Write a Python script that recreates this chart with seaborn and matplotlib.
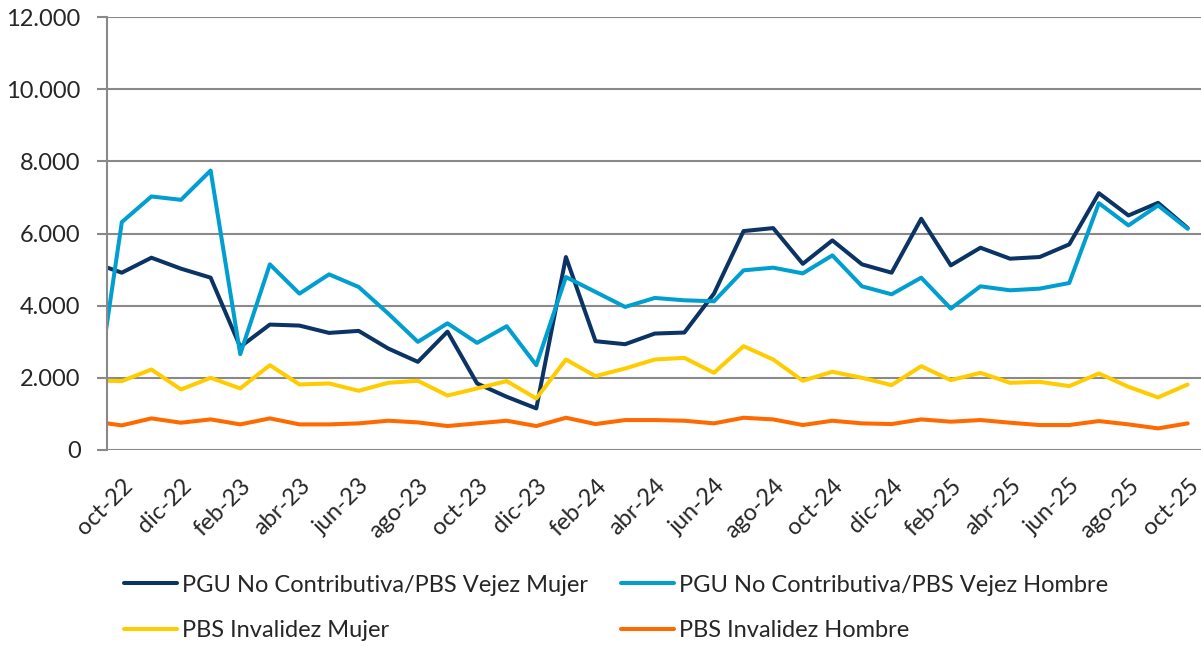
import numpy as np
import pandas as pd
import matplotlib
matplotlib.use("Agg")
import matplotlib.pyplot as plt
import matplotlib.ticker as mticker
import seaborn as sns

# months sep-22 .. oct-25 (sep-22 sits just left of the axis and gets clipped)
meses = ["sep-22", "oct-22", "nov-22", "dic-22", "ene-23", "feb-23", "mar-23", "abr-23",
         "may-23", "jun-23", "jul-23", "ago-23", "sep-23", "oct-23", "nov-23", "dic-23",
         "ene-24", "feb-24", "mar-24", "abr-24", "may-24", "jun-24", "jul-24", "ago-24",
         "sep-24", "oct-24", "nov-24", "dic-24", "ene-25", "feb-25", "mar-25", "abr-25",
         "may-25", "jun-25", "jul-25", "ago-25", "sep-25", "oct-25"]

vejez_mujer = [5200, 4914, 5329, 5025, 4776, 2858, 3476, 3448, 3245, 3301, 2812, 2443,
               3280, 1844, 1475, 1153, 5348, 3015, 2932, 3227, 3255, 4333, 6067, 6150,
               5160, 5809, 5145, 4914, 6408, 5117, 5606, 5302, 5348, 5698, 7118, 6500,
               6850, 6150]
vejez_hombre = [709, 6316, 7026, 6933, 7745, 2655, 5145, 4333, 4868, 4518, 3780, 2997,
                3510, 2969, 3430, 2351, 4794, 4380, 3965, 4214, 4149, 4121, 4979, 5053,
                4895, 5394, 4536, 4315, 4776, 3919, 4536, 4426, 4472, 4628, 6841, 6224,
                6777, 6131]
invalidez_mujer = [1930, 1909, 2231, 1678, 2001, 1706, 2351, 1816, 1844, 1641, 1862, 1918,
                   1510, 1706, 1909, 1429, 2508, 2047, 2259, 2508, 2554, 2139, 2877, 2508,
                   1920, 2167, 2001, 1798, 2323, 1936, 2139, 1862, 1890, 1770, 2121, 1752,
                   1457, 1816]
invalidez_hombre = [795, 682, 876, 756, 848, 710, 876, 710, 710, 738, 811, 765,
                    664, 738, 811, 664, 894, 719, 830, 830, 811, 738, 894, 848,
                    692, 811, 738, 719, 848, 784, 830, 756, 692, 692, 802, 710,
                    599, 738]

series = {
    "PGU No Contributiva/PBS Vejez Mujer": vejez_mujer,
    "PGU No Contributiva/PBS Vejez Hombre": vejez_hombre,
    "PBS Invalidez Mujer": invalidez_mujer,
    "PBS Invalidez Hombre": invalidez_hombre,
}
colores = ["#0B3464", "#009FD0", "#FFCC00", "#FF6A00"]

df = pd.concat([pd.DataFrame({"idx": np.arange(len(meses)), "valor": v, "serie": k})
                for k, v in series.items()], ignore_index=True)

sns.set_style("white")
plt.rcParams["font.family"] = ["Lato", "DejaVu Sans"]
fs = 17

fig = plt.figure(figsize=(12.01, 6.46), dpi=100)
ax = fig.add_axes([107 / 1201, 1 - 450 / 646, (1201 - 107) / 1201, (450 - 17) / 646])

sns.lineplot(data=df, x="idx", y="valor", hue="serie", palette=colores,
             linewidth=2.9, ax=ax, legend=False)

ax.set_xlim(0.5, 37.45)
ax.set_ylim(0, 12000)
ax.yaxis.set_major_locator(mticker.MultipleLocator(2000))
ax.yaxis.set_major_formatter(mticker.FuncFormatter(lambda v, p: f"{v:,.0f}".replace(",", ".")))
ax.grid(axis="y", color="#898989", linewidth=1.5)
ax.set_axisbelow(True)

ticks = np.arange(1, len(meses), 2)
ax.set_xticks(ticks)
ax.set_xticklabels([meses[i] for i in ticks], rotation=45, ha="right",
                   rotation_mode="anchor", fontsize=fs)
ax.tick_params(axis="x", length=0, pad=18)
ax.tick_params(axis="y", length=7, width=1.5, color="#898989", labelsize=fs, pad=12,
               left=True)
ax.set_xlabel("")
ax.set_ylabel("")

for s in ["top", "right", "bottom"]:
    ax.spines[s].set_visible(False)
ax.spines["left"].set_color("#898989")
ax.spines["left"].set_linewidth(1.5)

# legend: column-major order so rows read Vejez Mujer/Hombre, Invalidez Mujer/Hombre
nombres = list(series.keys())
orden = [0, 2, 1, 3]
handles = [plt.Line2D([], [], color=colores[i], linewidth=2.9) for i in orden]
fig.legend(handles, [nombres[i] for i in orden], ncol=2, loc="center left",
           bbox_to_anchor=(103 / 1201, 1 - 608 / 646), frameon=False, fontsize=fs,
           handlelength=2.25, handletextpad=0.2, columnspacing=1.4, labelspacing=1.05)

fig.savefig("out.png", dpi=100)
